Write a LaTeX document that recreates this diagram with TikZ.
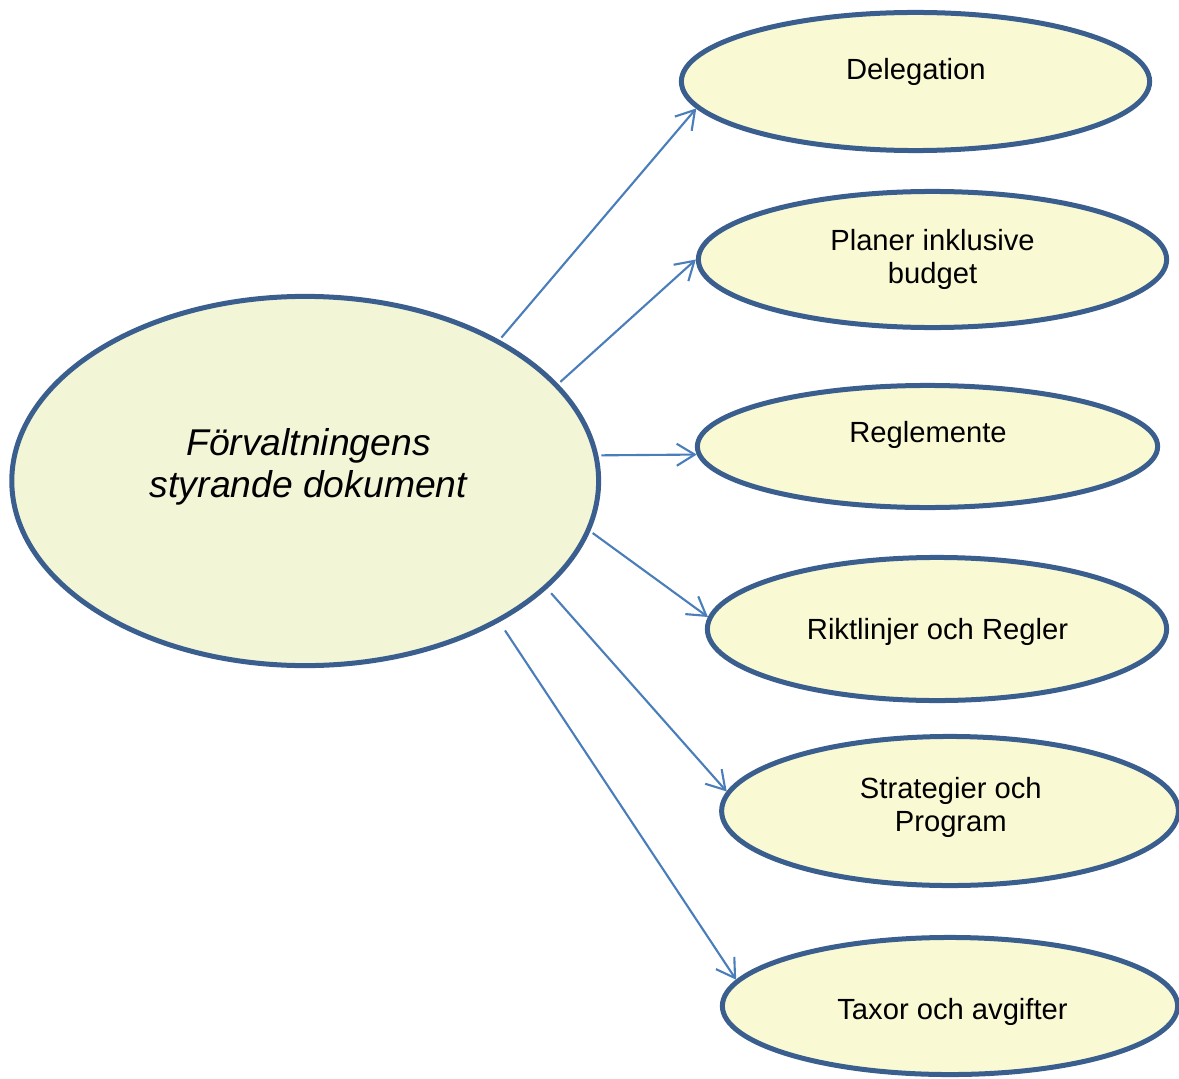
\documentclass[tikz,border=0pt]{standalone}
\usepackage{fontspec}
\setmainfont{Liberation Sans}
\usetikzlibrary{shapes.geometric}
\usetikzlibrary{arrows.meta}
\definecolor{rim}{HTML}{3A5F8E}
\definecolor{bigfill}{HTML}{F2F5D6}
\definecolor{ovfill}{HTML}{F9F9D3}
\definecolor{arrb}{HTML}{4A7EBB}
\begin{document}
\begin{tikzpicture}[x=0.01cm, y=-0.01cm,
	oval/.style={draw=rim, line width=0.05cm, ellipse, fill=ovfill, inner sep=0pt},
	bigo/.style={oval, fill=bigfill},
	txt/.style={anchor=base, align=center, inner sep=0pt, font=\fontsize{8.3pt}{9.45pt}\selectfont},
	bigt/.style={txt, font=\fontsize{10.6pt}{11.9pt}\selectfont\itshape},
	arr/.style={draw=arrb, line width=0.6pt, -{Straight Barb[length=1.8mm,width=2.2mm]}, shorten <=0.3mm}]
	\useasboundingbox (0,0) rectangle (1179,1079);
	\node [bigo, minimum width=5.865cm, minimum height=3.69cm] (doc) at (305.2,481) {};
	\node [oval, minimum width=4.68cm, minimum height=1.38cm] (del) at (915.5,81.5) {};
	\node [oval, minimum width=4.68cm, minimum height=1.36cm] (pla) at (932.5,259.5) {};
	\node [oval, minimum width=4.6cm, minimum height=1.22cm] (reg) at (927.5,446.5) {};
	\node [oval, minimum width=4.59cm, minimum height=1.43cm] (rik) at (937,629) {};
	\node [oval, minimum width=4.565cm, minimum height=1.49cm] (str) at (950,811) {};
	\node [oval, minimum width=4.55cm, minimum height=1.37cm] (tax) at (950,1006) {};
	\node [bigt] (doc-t) at (308.5,497) {Förvaltningens\\styrande dokument};
	\node [txt] (del-t) at (915.8,79.3) {Delegation};
	\node [txt] (pla-t) at (932.5,283.3) {Planer inklusive\\budget};
	\node [txt] (reg-t) at (928,442.7) {Reglemente};
	\node [txt] (rik-t) at (937.5,639.3) {Riktlinjer och Regler};
	\node [txt] (str-t) at (950.8,831.7) {Strategier och\\Program};
	\node [txt] (tax-t) at (952.5,1019.3) {Taxor och avgifter};
	\draw [arr] (doc.36) -- (del.187);
	\draw [arr] (doc.21) -- (pla.180);
	\draw [arr] (doc.5) -- (reg.182);
	\draw [arr] (doc.-10) -- (rik.177);
	\draw [arr, shorten <=0.6mm] (doc.-24) -- (str.175);
	\draw [arr, shorten <=1mm] (doc.-36) -- (tax.173);
\end{tikzpicture}
\end{document}
